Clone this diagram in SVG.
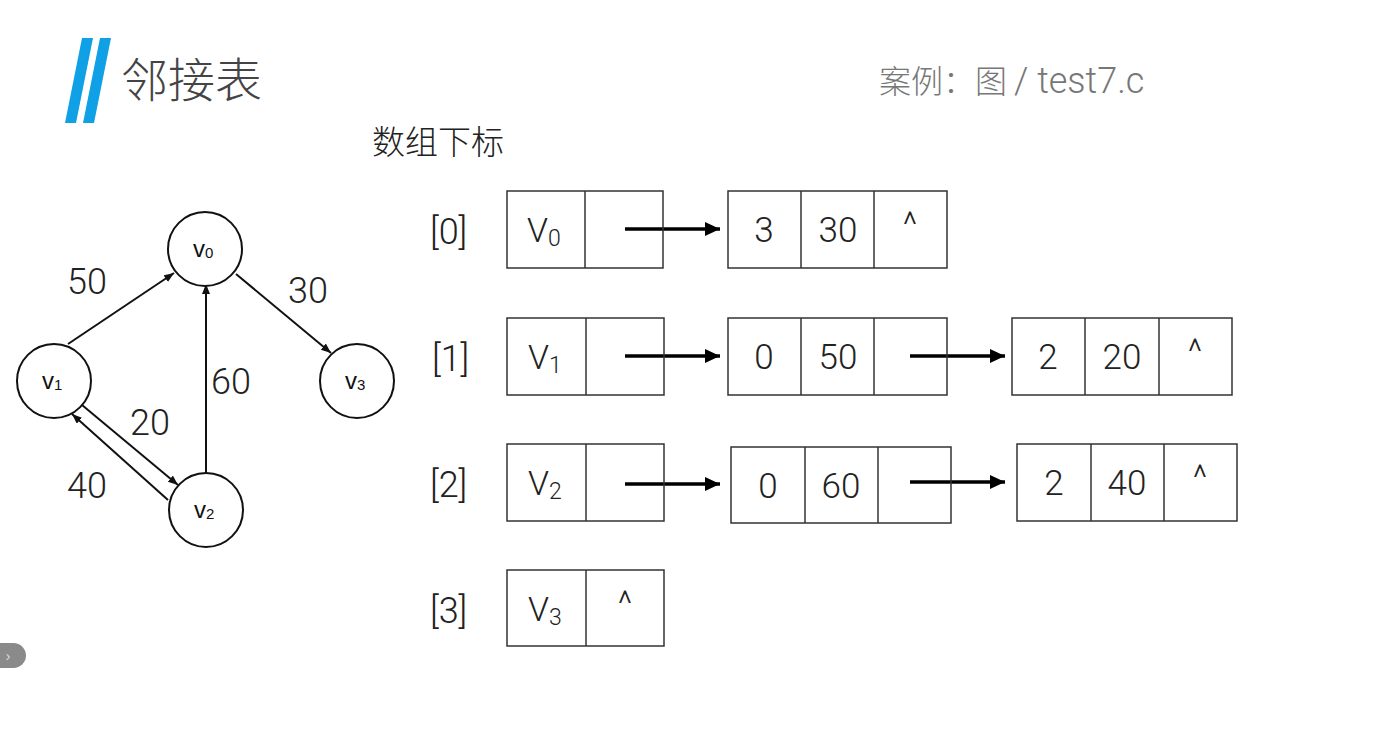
<svg xmlns="http://www.w3.org/2000/svg" width="1381" height="753" viewBox="0 0 1381 753">
<style>
.t{font-family:Roboto,"Liberation Sans",sans-serif;font-weight:300;fill:#222}
.cjk{font-family:"Noto Sans CJK SC",sans-serif;font-weight:300}
.box{fill:none;stroke:#333;stroke-width:1.5}
.circ{fill:#fff;stroke:#111;stroke-width:2}
.e{stroke:#111;stroke-width:2;fill:none;marker-end:url(#ah)}
.pa{stroke:#000;stroke-width:3.5;fill:none;marker-end:url(#ab)}
.cell{font-size:35px;text-anchor:middle}
.nl{font-family:"Liberation Sans",sans-serif;font-weight:400;font-size:24px;fill:#111}
.sub{font-size:15px}
.hv{font-size:34px}
.vs{font-size:23px}
.idx{font-size:36px}
.el{font-size:36px}
</style>
<defs>
<marker id="ah" markerUnits="userSpaceOnUse" markerWidth="11" markerHeight="9" refX="10" refY="4" orient="auto"><path d="M0,0 L10,4 L0,8 z" fill="#111"/></marker>
<marker id="ab" markerUnits="userSpaceOnUse" markerWidth="16" markerHeight="14" refX="15" refY="7" orient="auto"><path d="M0,0 L15,7 L0,14 z" fill="#000"/></marker>
</defs>
<rect width="1381" height="753" fill="#fff"/>

<g id="header">
<polygon points="82,38 93,38 76,123 65,123" fill="#0fa0e6"/>
<polygon points="100,38 111,38 94,123 83,123" fill="#0fa0e6"/>
<text x="121" y="97" class="cjk" font-size="47" fill="#444">邻接表</text>
<text x="879" y="93" font-size="32" fill="#777" font-family="'Noto Sans CJK SC',sans-serif" font-weight="300">案例：图 <tspan font-family="Roboto,'Liberation Sans',sans-serif" font-size="36">/ test7.c</tspan></text>
<text x="372" y="154" class="cjk" font-size="33" fill="#222">数组下标</text>
</g>

<g id="connectors">
<line class="e" x1="68" y1="344" x2="174" y2="273"/>
<line class="e" x1="236" y1="274" x2="331" y2="353"/>
<line class="e" x1="206" y1="477" x2="206" y2="284"/>
<line class="e" x1="82" y1="405" x2="178" y2="485"/>
<line class="e" x1="168" y1="500" x2="72" y2="414"/>
<line class="pa" x1="625" y1="229" x2="720" y2="229"/>
<line class="pa" x1="625" y1="356" x2="720" y2="356"/>
<line class="pa" x1="910" y1="356" x2="1005" y2="356"/>
<line class="pa" x1="625" y1="484" x2="720" y2="484"/>
<line class="pa" x1="910" y1="482" x2="1005" y2="482"/>
</g>

<g id="edge-labels" class="t el">
<text x="67" y="294">50</text>
<text x="288" y="303">30</text>
<text x="211" y="394">60</text>
<text x="130" y="435">20</text>
<text x="67" y="498">40</text>
</g>

<g id="node-v0"><circle class="circ" cx="205" cy="249" r="37"/><text class="nl" x="193" y="257">v<tspan class="sub" dy="1">0</tspan></text></g>
<g id="node-v1"><circle class="circ" cx="54" cy="381" r="37"/><text class="nl" x="42" y="389">v<tspan class="sub" dy="1">1</tspan></text></g>
<g id="node-v2"><circle class="circ" cx="206" cy="510" r="37"/><text class="nl" x="194" y="518">v<tspan class="sub" dy="1">2</tspan></text></g>
<g id="node-v3"><circle class="circ" cx="357" cy="381" r="37"/><text class="nl" x="345" y="389">v<tspan class="sub" dy="1">3</tspan></text></g>

<g id="index-labels" class="t idx">
<text x="430" y="244">[0]</text>
<text x="432" y="371">[1]</text>
<text x="430" y="497">[2]</text>
<text x="430" y="623">[3]</text>
</g>

<g id="head-0"><rect class="box" x="507" y="191" width="156" height="77"/><line class="box" x1="585" y1="191" x2="585" y2="268"/><text class="t hv" x="527" y="242">V<tspan class="vs" dy="4">0</tspan></text></g>
<g id="head-1"><rect class="box" x="507" y="318" width="157" height="77"/><line class="box" x1="586" y1="318" x2="586" y2="395"/><text class="t hv" x="528" y="369">V<tspan class="vs" dy="4">1</tspan></text></g>
<g id="head-2"><rect class="box" x="507" y="444" width="157" height="77"/><line class="box" x1="586" y1="444" x2="586" y2="521"/><text class="t hv" x="528" y="495">V<tspan class="vs" dy="4">2</tspan></text></g>
<g id="head-3"><rect class="box" x="507" y="570" width="157" height="76"/><line class="box" x1="586" y1="570" x2="586" y2="646"/><text class="t hv" x="528" y="621">V<tspan class="vs" dy="4">3</tspan></text><text class="t cell" x="625" y="616" font-size="26">^</text></g>

<g id="node-0-0"><rect class="box" x="728" y="191" width="219" height="77"/><line class="box" x1="801" y1="191" x2="801" y2="268"/><line class="box" x1="874" y1="191" x2="874" y2="268"/><text class="t cell" x="764" y="242">3</text><text class="t cell" x="838" y="242">30</text><text class="t cell" x="910" y="237" font-size="26">^</text></g>
<g id="node-1-0"><rect class="box" x="728" y="318" width="219" height="77"/><line class="box" x1="801" y1="318" x2="801" y2="395"/><line class="box" x1="874" y1="318" x2="874" y2="395"/><text class="t cell" x="764" y="369">0</text><text class="t cell" x="838" y="369">50</text></g>
<g id="node-1-1"><rect class="box" x="1012" y="318" width="220" height="77"/><line class="box" x1="1085" y1="318" x2="1085" y2="395"/><line class="box" x1="1159" y1="318" x2="1159" y2="395"/><text class="t cell" x="1048" y="369">2</text><text class="t cell" x="1122" y="369">20</text><text class="t cell" x="1195" y="364" font-size="26">^</text></g>
<g id="node-2-0"><rect class="box" x="731" y="447" width="220" height="76"/><line class="box" x1="805" y1="447" x2="805" y2="523"/><line class="box" x1="878" y1="447" x2="878" y2="523"/><text class="t cell" x="768" y="498">0</text><text class="t cell" x="841" y="498">60</text></g>
<g id="node-2-1"><rect class="box" x="1017" y="444" width="220" height="77"/><line class="box" x1="1091" y1="444" x2="1091" y2="521"/><line class="box" x1="1164" y1="444" x2="1164" y2="521"/><text class="t cell" x="1054" y="495">2</text><text class="t cell" x="1127" y="495">40</text><text class="t cell" x="1200" y="490" font-size="26">^</text></g>

<g id="side-tab"><rect x="-14" y="643" width="40" height="25" rx="12.5" fill="#8a8a8a"/><text x="8" y="661" font-family="'Liberation Sans',sans-serif" font-size="14" fill="#ddd" text-anchor="middle">›</text></g>
</svg>
